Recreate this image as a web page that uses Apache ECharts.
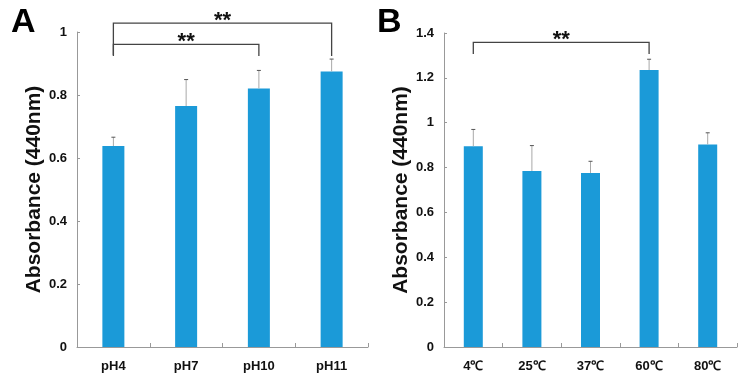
<!DOCTYPE html>
<html>
<head>
<meta charset="utf-8">
<script src="https://cdn.jsdelivr.net/npm/echarts@6/dist/echarts.min.js"></script>
<style>
html,body{margin:0;padding:0;background:#fff;}
#c{width:746px;height:383px;}
</style>
</head>
<body>
<div id="c"></div>
<script>
// Panel A data
const catsA = ['pH4', 'pH7', 'pH10', 'pH11'];
const valsA = [0.638, 0.765, 0.821, 0.875];
const errA = [0.028, 0.084, 0.057, 0.039];
// brackets A: [fromIdx, toIdx, level, dropFrom, dropTo]
const bracketsA = [[0, 3, 1.028, 0.924, 0.927], [0, 2, 0.961, 0.924, 0.924]];
const ticksA = [0, 0.2, 0.4, 0.6, 0.8, 1];

// Panel B data
const catsB = ['4℃', '25℃', '37℃', '60℃', '80℃'];
const valsB = [0.895, 0.785, 0.776, 1.235, 0.903];
const errB = [0.075, 0.113, 0.052, 0.048, 0.052];
const bracketsB = [[0, 3, 1.358, 1.306, 1.306]];
const ticksB = [0, 0.2, 0.4, 0.6, 0.8, 1, 1.2, 1.4];

const yName = 'Absorbance (440nm)';
const barColor = '#1b9ad8';
const fontFam = 'Liberation Sans, Arial, sans-serif';

function errRender(params, api) {
  const x = api.value(0), v = api.value(1), e = api.value(2);
  const p0 = api.coord([x, v]);
  const p1 = api.coord([x, v + e]);
  return {
    type: 'group',
    children: [
      {type: 'line', shape: {x1: p0[0], y1: p0[1], x2: p1[0], y2: p1[1]}, style: {stroke: '#a8a8a8', lineWidth: 1}},
      {type: 'line', shape: {x1: p1[0] - 2, y1: p1[1], x2: p1[0] + 2, y2: p1[1]}, style: {stroke: '#555', lineWidth: 1}}
    ]
  };
}
function bracketRender(params, api) {
  const a = api.value(0), b = api.value(1), lv = api.value(2), d1 = api.value(3), d2 = api.value(4);
  const pa = api.coord([a, lv]), pb = api.coord([b, lv]);
  const pa2 = api.coord([a, d2]), pb2 = api.coord([b, d1]);
  return {
    type: 'group',
    children: [
      {type: 'polyline', shape: {points: [[pa2[0], pa2[1]], [pa[0], pa[1]], [pb[0], pb[1]], [pb2[0], pb2[1]]]},
        style: {stroke: '#444', lineWidth: 1.3, fill: null}},
      {type: 'text', style: {text: '**', x: (pa[0] + pb[0]) / 2, y: pa[1] - 2, align: 'center', verticalAlign: 'middle',
        font: 'bold 22px ' + fontFam, fill: '#111'}}
    ]
  };
}

function yAxis(gi, max) {
  return {
    type: 'value', gridIndex: gi, min: 0, max: max, interval: 0.2,
    name: yName, nameLocation: 'middle', nameGap: 27, nameRotate: 90,
    nameTextStyle: {fontFamily: fontFam, fontWeight: 'bold', fontSize: 21, color: '#111'},
    axisLine: {show: true, lineStyle: {color: '#999', width: 1}},
    axisTick: {show: true, inside: true, length: 3, lineStyle: {color: '#999'}},
    splitLine: {show: false},
    axisLabel: {fontFamily: fontFam, fontWeight: 'bold', fontSize: 13, color: '#111', margin: 10}
  };
}
function xAxis(gi, cats) {
  return {
    type: 'category', gridIndex: gi, data: cats,
    axisLine: {show: true, lineStyle: {color: '#999', width: 1}},
    axisTick: {show: true, inside: true, length: 4, lineStyle: {color: '#999'}},
    axisLabel: {fontFamily: fontFam, fontWeight: 'bold', fontSize: 13, color: '#111', margin: 13}
  };
}

const chart = echarts.init(document.getElementById('c'), null, {renderer: 'canvas'});
chart.setOption({
  animation: false,
  backgroundColor: '#fff',
  title: [
    {text: 'A', left: 6, top: 1, textStyle: {fontFamily: fontFam, fontWeight: 'bold', fontSize: 34, color: '#000'}},
    {text: 'B', left: 372, top: 1, textStyle: {fontFamily: fontFam, fontWeight: 'bold', fontSize: 34, color: '#000'}}
  ],
  grid: [
    {left: 77, top: 32, width: 291, height: 315},
    {left: 444, top: 33, width: 293, height: 314}
  ],
  xAxis: [xAxis(0, catsA), xAxis(1, catsB)],
  yAxis: [yAxis(0, 1), yAxis(1, 1.4)],
  series: [
    {type: 'bar', xAxisIndex: 0, yAxisIndex: 0, data: valsA, barWidth: 22, itemStyle: {color: barColor}},
    {type: 'custom', xAxisIndex: 0, yAxisIndex: 0, renderItem: errRender,
      data: catsA.map((c, i) => [i, valsA[i], errA[i]]), z: 3},
    {type: 'custom', xAxisIndex: 0, yAxisIndex: 0, renderItem: bracketRender, data: bracketsA, z: 4},
    {type: 'bar', xAxisIndex: 1, yAxisIndex: 1, data: valsB, barWidth: 19, itemStyle: {color: barColor}},
    {type: 'custom', xAxisIndex: 1, yAxisIndex: 1, renderItem: errRender,
      data: catsB.map((c, i) => [i, valsB[i], errB[i]]), z: 3},
    {type: 'custom', xAxisIndex: 1, yAxisIndex: 1, renderItem: bracketRender, data: bracketsB, z: 4}
  ]
});
</script>
</body>
</html>
